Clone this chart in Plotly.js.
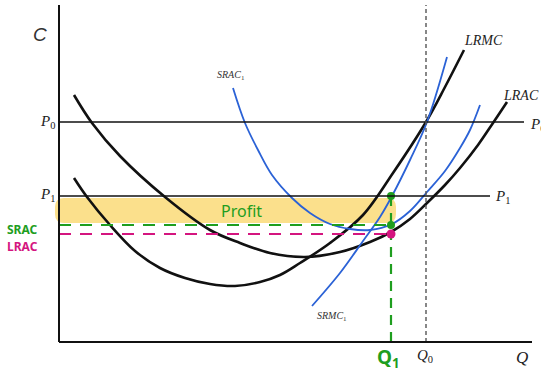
<!DOCTYPE html>
<html>
<head>
<meta charset="utf-8">
<script src="https://cdn.plot.ly/plotly-3.0.1.min.js"></script>
<style>html,body{margin:0;padding:0;background:#fff;}#chart{width:541px;height:381px;}</style>
</head>
<body>
<div id="chart"></div>
<script>
// Quantity (Q) and cost (C) readings of each curve
const lracQ = [15,33,61,106,151,181,211,246,281,311,332,351,368,386,401,419,434,448];
const lracC = [247,219,186,145,112,99,89,85,90,100,110,123,139,157,174,197,219,240];
const lrmcQ = [15,28,51,76,101,126,151,176,201,221,241,271,304,334,367,386,405];
const lrmcC = [164,145,117,91,74,64,58,56,60,67,79,99,127,169,220,255,292];
const sracQ = [174,186,199,213,233,251,271,291,311,333,351,368,386,401,411,421];
const sracC = [254,219,192,167,144,129,118,113,112,118,131,150,171,194,212,237];
const srmcQ = [253,281,304,321,333,351,368,388];
const srmcC = [36,69,101,125,146,182,220,285];

// key levels
const priceNames = ["P0", "P1"];
const priceLevels = [220, 146];
const priceLineEnd = [465, 431];
const qNames = ["Q1", "Q0"];
const qLevels = [332, 367];
const sracAtQ1 = 117;
const lracAtQ1 = 108;
const axisMax = {Q: 473, C: 337};

const black = '#111', blue = '#2b62d6', green = '#1f9e1f', magenta = '#d4157f';
const serif = 'Liberation Serif, DejaVu Serif, serif';
const hand = 'Noto Sans, DejaVu Sans, sans-serif';

const P0 = priceLevels[0], P1 = priceLevels[1];
const Q1 = qLevels[0], Q0 = qLevels[1];

const traces = [
  {x: lracQ, y: lracC, mode: 'lines', line: {color: black, width: 2.6, shape: 'spline', smoothing: 1}},
  {x: lrmcQ, y: lrmcC, mode: 'lines', line: {color: black, width: 2.6, shape: 'spline', smoothing: 1}},
  {x: sracQ, y: sracC, mode: 'lines', line: {color: blue, width: 1.8, shape: 'spline', smoothing: 1}},
  {x: srmcQ, y: srmcC, mode: 'lines', line: {color: blue, width: 1.8, shape: 'spline', smoothing: 1}},
  // dashed guide lines
  {x: [0, Q1], y: [sracAtQ1, sracAtQ1], mode: 'lines', line: {color: green, width: 2.2, dash: '12px,9px'}},
  {x: [0, Q1], y: [lracAtQ1, lracAtQ1], mode: 'lines', line: {color: magenta, width: 2, dash: '12px,9px'}},
  {x: [Q1, Q1], y: [0, P1], mode: 'lines', line: {color: green, width: 2.2, dash: '10px,7px'}},
  {x: [Q1, Q1], y: [sracAtQ1, P1], mode: 'markers', marker: {color: green, size: 8}},
  {x: [Q1], y: [lracAtQ1], mode: 'markers', marker: {color: magenta, size: 9}}
];

const shapes = [];
// profit band (rounded)
const x0 = -4, x1 = Q1 + 5, yb = sracAtQ1 + 2, yt = P1 - 2, r = 9;
shapes.push({type: 'path', layer: 'below', xref: 'x', yref: 'y',
  path: `M ${x0+r},${yb} L ${x1-r},${yb} Q ${x1},${yb} ${x1},${yb+r} L ${x1},${yt-r} Q ${x1},${yt} ${x1-r},${yt} L ${x0+r},${yt} Q ${x0},${yt} ${x0},${yt-r} L ${x0},${yb+r} Q ${x0},${yb} ${x0+r},${yb} Z`,
  fillcolor: '#fbe08c', line: {width: 0}});
// price lines
priceLevels.forEach((p, i) => shapes.push({type: 'line', xref: 'x', yref: 'y', x0: 0, x1: priceLineEnd[i], y0: p, y1: p, line: {color: black, width: 1.6}}));
// Q0 dotted
shapes.push({type: 'line', xref: 'x', yref: 'y', x0: Q0, x1: Q0, y0: 0, y1: axisMax.C, line: {color: '#555', width: 1.4, dash: '4px,3px'}});
// axes
shapes.push({type: 'line', xref: 'x', yref: 'y', x0: 0, x1: 0, y0: 0, y1: axisMax.C, line: {color: black, width: 2}});
shapes.push({type: 'line', xref: 'x', yref: 'y', x0: 0, x1: axisMax.Q, y0: 0, y1: 0, line: {color: black, width: 2}});

function ann(text, x, y, opts) {
  return Object.assign({text: text, x: x, y: y, xref: 'x', yref: 'y', showarrow: false,
    font: {family: serif, size: 15, color: '#222'}}, opts || {});
}
const annotations = [
  ann('<i>C</i>', -19, 308, {font: {family: 'Liberation Sans, sans-serif', size: 19, color: '#333'}}),
  ann('<i>P</i><sub>0</sub>', -2, P0, {xanchor: 'right'}),
  ann('<i>P</i><sub>1</sub>', -2, P1 + 1, {xanchor: 'right'}),
  ann('<i>P</i><sub>0</sub>', priceLineEnd[0] + 4, P0 - 3, {xanchor: 'left'}),
  ann('<i>P</i><sub>1</sub>', priceLineEnd[1] + 3, P1 - 1, {xanchor: 'left'}),
  ann('<i>LRMC</i>', 403, 302, {xanchor: 'left', font: {family: serif, size: 14, color: '#222'}}),
  ann('<i>LRAC</i>', 442, 247, {xanchor: 'left', font: {family: serif, size: 14, color: '#222'}}),
  ann('<i>SRAC</i><sub>1</sub>', 172, 267, {font: {family: serif, size: 10, color: '#333'}}),
  ann('<i>SRMC</i><sub>1</sub>', 273, 26, {font: {family: serif, size: 10, color: '#333'}}),
  ann('<i>Q</i><sub>0</sub>', Q0 - 1, -14),
  ann('<i>Q</i>', 463, -15, {font: {family: serif, size: 17, color: '#222'}}),
  ann('<b>Q</b><sub><b>1</b></sub>', Q1 - 3, -16, {font: {family: hand, size: 19, color: green}}),
  ann('Profit', 182, 131, {font: {family: hand, size: 16, color: green}}),
  ann('<b>SRAC</b>', -37, 113, {font: {family: hand, size: 12, color: green}}),
  ann('<b>LRAC</b>', -37, 96, {font: {family: hand, size: 12, color: magenta}})
];

const layout = {
  width: 541, height: 381,
  margin: {l: 0, r: 0, t: 0, b: 0},
  paper_bgcolor: '#fff', plot_bgcolor: '#fff',
  showlegend: false,
  xaxis: {range: [-59, 482], visible: false, fixedrange: true},
  yaxis: {range: [-39, 342], visible: false, fixedrange: true},
  shapes: shapes,
  annotations: annotations
};
Plotly.newPlot('chart', traces, layout, {displayModeBar: false, staticPlot: true});
</script>
</body>
</html>
